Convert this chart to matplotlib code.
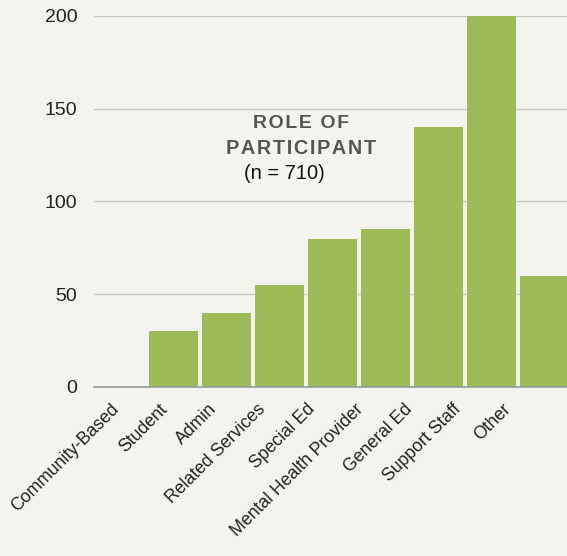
import matplotlib
matplotlib.use("Agg")
import matplotlib.pyplot as plt
import numpy as np

# role of participant counts
roles = ["Community-Based", "Student", "Admin", "Related Services", "Special Ed",
         "Mental Health Provider", "General Ed", "Support Staff", "Other"]
counts = [0, 30, 40, 55, 80, 85, 140, 200, 60]
yticks = [0, 50, 100, 150, 200]

bg = "#f4f4ef"
green = "#9dbb59"

plt.rcParams["font.family"] = ["Liberation Sans", "DejaVu Sans"]

fig = plt.figure(figsize=(5.67, 5.56), dpi=100, facecolor=bg)
ax = fig.add_axes([0.1658, 0.304, 0.8413, 0.6673], facecolor=bg)

x = np.arange(len(roles))
ax.bar(x, counts, width=0.92, color=green, zorder=3)

ax.set_xlim(-0.5, len(roles) - 0.5)
ax.set_ylim(0, 200)
ax.set_yticks(yticks)
ax.set_yticklabels([str(v) for v in yticks], fontsize=14, color="#222222")
# the slanted labels sit a bit tighter than the bars in the original
ax.set_xticks(x * 0.9226 - 0.075)
ax.set_xticklabels(roles, rotation=45, ha="right", va="center",
                   rotation_mode="anchor", fontsize=12.7, color="#222222")
ax.tick_params(axis="y", length=0, pad=12)
ax.tick_params(axis="x", length=0, pad=14)

ax.grid(axis="y", color="#c8c8c8", linewidth=1, zorder=0)
for s in ["top", "right", "left"]:
    ax.spines[s].set_visible(False)
ax.spines["bottom"].set_color("#999999")
ax.spines["bottom"].set_linewidth(1.2)
ax.spines["bottom"].set_zorder(4)

# title inside the plot
hs = "\u200a"
ax.text(3.4, 142, hs.join("ROLE OF"), ha="center", va="center", fontsize=14,
        fontweight="bold", color="#555555", zorder=5)
ax.text(3.4, 128.5, hs.join("PARTICIPANT"), ha="center", va="center", fontsize=14.3,
        fontweight="bold", color="#555555", zorder=5)
ax.text(3.1, 115, "(n = 710)", ha="center", va="center", fontsize=14.5,
        color="#111111", zorder=5)

fig.savefig("out.png", dpi=100, facecolor=bg)
